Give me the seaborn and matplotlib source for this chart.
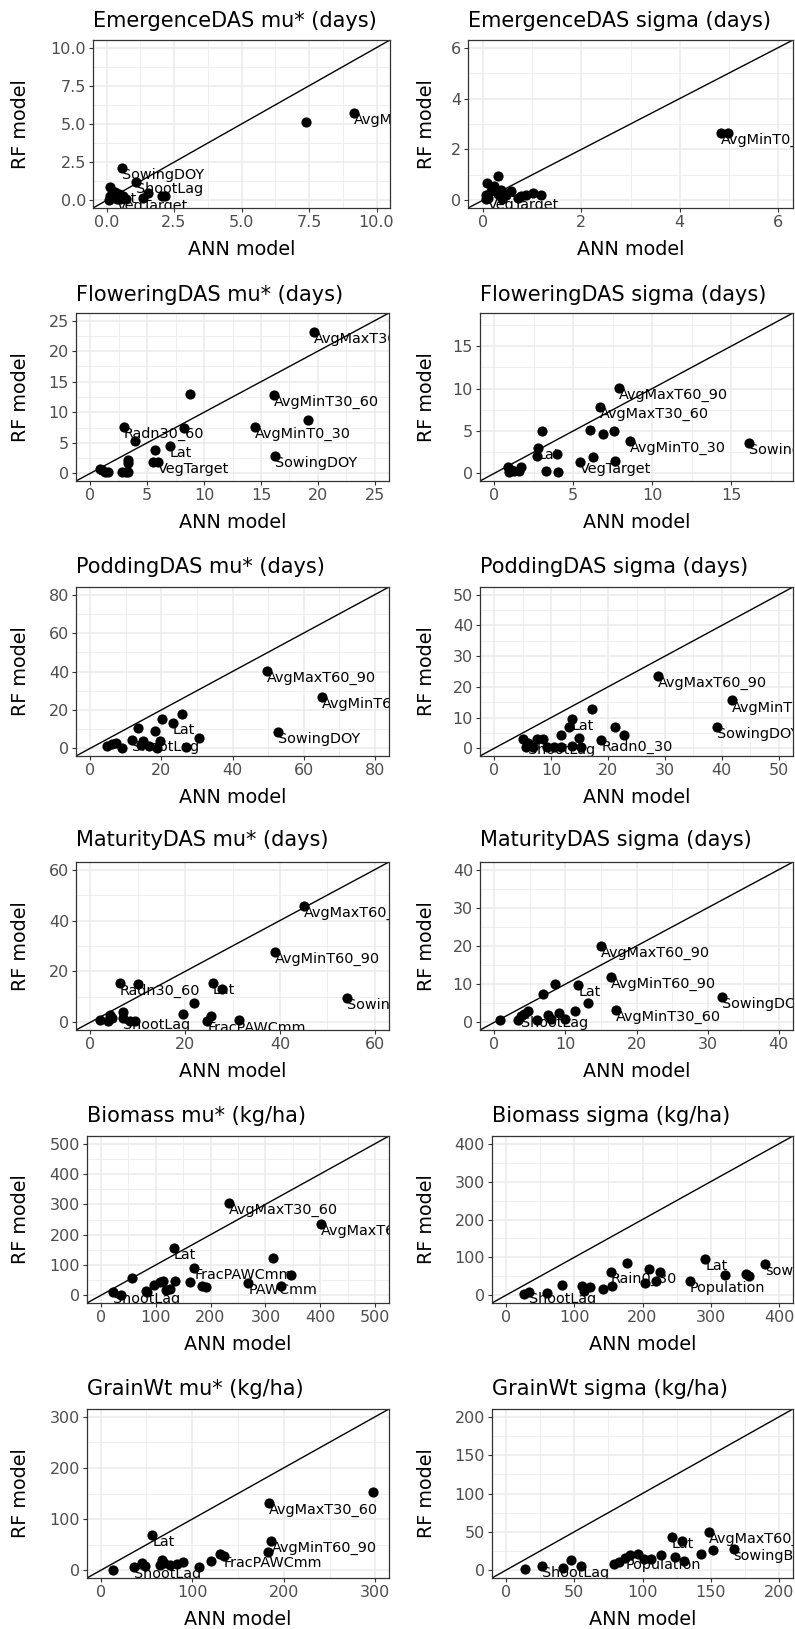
import matplotlib
matplotlib.use("Agg")
import matplotlib.pyplot as plt
import pandas as pd
import seaborn as sns
from matplotlib.ticker import MultipleLocator, FormatStrFormatter

sns.set_theme(style="white")
plt.rcParams["font.family"] = ["DejaVu Sans"]

# ---------------- data: ANN vs RF sensitivity indices ----------------
emerg_mu_ann = [9.16, 7.40, 0.58, 1.11, 0.31, 0.38, 0.12, 0.10, 0.50, 0.74, 0.12, 1.36, 1.55, 2.04, 2.17, 0.45, 0.62]
emerg_mu_rf = [5.70, 5.13, 2.10, 1.22, 0.57, 0.10, 0.87, 0.00, 0.07, 0.10, 0.28, 0.17, 0.46, 0.28, 0.28, 0.40, 0.30]
emerg_mu_lab = ["AvgMinT0_30", "", "SowingDOY", "ShootLag", "Lat", "VegTarget", "", "", "", "", "", "", "", "", "", "", ""]

emerg_sd_ann = [4.84, 4.99, 0.30, 0.09, 0.22, 0.17, 0.37, 0.57, 0.47, 0.07, 0.07, 0.11, 0.78, 0.88, 1.01, 1.18, 0.71, 0.30, 0.40]
emerg_sd_rf = [2.65, 2.65, 0.95, 0.69, 0.55, 0.37, 0.40, 0.37, 0.23, 0.23, 0.04, 0.10, 0.17, 0.23, 0.27, 0.20, 0.10, 0.25, 0.05]
emerg_sd_lab = ["AvgMinT0_30", "", "", "", "Lat", "", "", "", "", "", "", "VegTarget", "", "", "", "", "", "", ""]

flow_mu_ann = [19.65, 16.17, 19.13, 14.49, 16.26, 8.78, 8.20, 2.96, 3.91, 7.01, 5.65, 3.33, 3.33, 5.50, 5.94, 0.87, 1.00, 1.30, 1.60, 2.75, 3.33, 3.10]
flow_mu_rf = [23.10, 12.77, 8.80, 7.66, 2.88, 13.00, 7.50, 7.66, 5.27, 4.51, 3.80, 2.17, 1.63, 1.90, 1.90, 0.65, 0.55, 0.27, 0.16, 0.16, 0.16, 0.20]
flow_mu_lab = ["AvgMaxT30_60", "AvgMinT30_60", "", "AvgMinT0_30", "SowingDOY", "", "", "Radn30_60", "", "Lat", "", "", "", "", "VegTarget", "", "", "", "", "", "", ""]

flow_sd_ann = [7.91, 6.71, 3.04, 6.04, 6.86, 7.55, 8.60, 16.09, 2.77, 3.99, 2.69, 6.23, 5.41, 7.61, 3.25, 4.05, 0.84, 1.05, 1.68, 1.57, 1.26, 0.94]
flow_sd_rf = [10.01, 7.87, 4.99, 5.06, 4.67, 4.99, 3.78, 3.62, 2.95, 2.34, 2.03, 1.87, 1.36, 1.48, 0.27, 0.19, 0.78, 0.39, 0.78, 0.27, 0.27, 0.19]
flow_sd_lab = ["AvgMaxT60_90", "AvgMaxT30_60", "", "", "", "", "AvgMinT0_30", "SowingDOY", "Lat", "", "", "", "VegTarget", "", "", "", "", "", "", "", "", ""]

pod_mu_ann = [49.8, 65.2, 52.8, 20.2, 25.8, 23.3, 13.5, 18.3, 11.8, 14.9, 19.7, 30.6, 27.0, 4.8, 6.2, 7.2, 8.8, 14.2, 16.5, 18.8]
pod_mu_rf = [40.2, 26.7, 8.5, 15.1, 17.7, 13.3, 10.4, 9.0, 4.2, 3.8, 3.8, 5.2, 0.9, 1.2, 2.1, 2.6, 0.35, 1.7, 1.2, 0.35]
pod_mu_lab = ["AvgMaxT60_90", "AvgMinT60_90", "SowingDOY", "", "", "Lat", "", "", "ShootLag", "", "", "", "", "", "", "", "", "", "", ""]

pod_sd_ann = [28.7, 41.8, 39.2, 17.1, 13.6, 13.2, 21.3, 22.8, 11.8, 14.9, 18.8, 5.1, 7.5, 8.5, 6.0, 5.6, 6.9, 9.2, 10.5, 11.8, 13.7, 15.3]
pod_sd_rf = [23.5, 15.6, 7.0, 12.9, 9.7, 6.9, 6.9, 4.3, 4.3, 3.5, 2.6, 3.1, 2.9, 3.1, 1.6, 0.5, 0.5, 0.5, 0.5, 0.5, 0.8, 0.5]
pod_sd_lab = ["AvgMaxT60_90", "AvgMinT60_90", "SowingDOY", "", "Lat", "", "", "", "", "", "Radn0_30", "", "", "", "ShootLag", "", "", "", "", "", "", ""]

mat_mu_ann = [45.1, 38.9, 54.2, 6.3, 10.1, 25.9, 27.8, 21.8, 19.6, 25.4, 24.7, 31.3, 7.0, 7.0, 2.1, 3.7, 4.2, 4.5, 8.3, 9.4]
mat_mu_rf = [45.7, 27.6, 9.5, 15.3, 14.9, 15.3, 13.3, 7.5, 3.2, 2.6, 0.65, 0.9, 3.9, 1.9, 1.0, 0.4, 3.0, 1.6, 0.4, 0.4]
mat_mu_lab = ["AvgMaxT60_90", "AvgMinT60_90", "SowingDOY", "Radn30_60", "", "Lat", "", "", "", "", "FracPAWCmm", "", "", "ShootLag", "", "", "", "", "", ""]

mat_sd_ann = [15.0, 16.4, 32.0, 17.1, 8.5, 11.8, 6.8, 13.2, 11.3, 9.1, 7.6, 8.0, 9.9, 6.0, 4.7, 4.2, 3.7, 3.3, 0.8]
mat_sd_rf = [19.9, 11.9, 6.7, 3.2, 10.1, 9.9, 7.3, 5.0, 2.9, 2.4, 2.0, 0.9, 1.0, 0.7, 3.0, 2.2, 1.7, 0.7, 0.7]
mat_sd_lab = ["AvgMaxT60_90", "AvgMinT60_90", "SowingDOY", "AvgMinT30_60", "", "Lat", "", "", "", "", "", "", "", "", "", "", "ShootLag", "", ""]

bio_mu_ann = [233.7, 401.6, 314.0, 132.9, 170.3, 346.0, 268.7, 327.9, 57.4, 97.8, 108.7, 113.5, 135.9, 163.0, 184.0, 191.0, 119.0, 125.6, 82.7, 84.5, 22.3, 37.4]
bio_mu_rf = [303.0, 234.8, 124.5, 154.8, 88.7, 68.2, 41.1, 32.5, 56.3, 35.7, 43.3, 46.5, 46.5, 43.3, 30.3, 27.0, 16.2, 21.6, 14.0, 10.8, 10.8, 2.2]
bio_mu_lab = ["AvgMaxT30_60", "AvgMaxT60_90", "", "Lat", "FracPAWCmm", "", "PAWCmm", "", "", "", "", "", "", "", "", "", "", "", "", "", "ShootLag", ""]

bio_sd_ann = [292.0, 379.0, 320.2, 351.6, 355.0, 269.4, 177.5, 153.3, 210.0, 225.0, 203.0, 220.0, 155.7, 142.7, 122.9, 112.2, 114.6, 81.7, 60.0, 33.4, 26.6]
bio_sd_rf = [95.2, 84.0, 54.5, 56.3, 50.2, 37.2, 86.6, 62.3, 69.3, 62.3, 32.9, 37.2, 26.0, 15.6, 21.6, 24.2, 11.3, 27.7, 6.9, 8.7, 2.6]
bio_sd_lab = ["Lat", "sowingB", "", "", "", "Population", "", "Rain0_30", "", "", "", "", "", "", "", "", "", "", "", "ShootLag", ""]

grain_mu_ann = [297.8, 184.0, 186.6, 183.0, 56.2, 130.4, 134.8, 120.3, 106.9, 89.9, 83.3, 76.1, 67.0, 68.8, 65.2, 45.3, 48.9, 36.2, 13.4]
grain_mu_rf = [152.0, 131.8, 57.4, 35.9, 68.5, 31.3, 28.0, 17.6, 6.5, 16.3, 13.0, 11.1, 19.6, 15.0, 9.8, 15.0, 8.5, 6.5, 1.3]
grain_mu_lab = ["", "AvgMaxT30_60", "AvgMinT60_90", "", "Lat", "", "FracPAWCmm", "", "", "", "", "", "", "", "", "", "", "ShootLag", ""]

grain_sd_ann = [148.5, 121.4, 129.1, 151.6, 166.6, 142.7, 123.8, 130.6, 113.4, 106.2, 100.8, 96.5, 90.7, 87.5, 82.7, 79.1, 48.1, 54.9, 41.6, 26.4, 14.3]
grain_sd_rf = [50.0, 43.5, 38.3, 27.0, 27.4, 21.7, 17.4, 12.2, 20.4, 14.3, 15.2, 20.9, 19.6, 16.1, 10.9, 8.7, 13.0, 5.2, 3.5, 5.7, 2.2]
grain_sd_lab = ["AvgMaxT60_90", "Lat", "", "", "sowingB", "", "", "", "", "", "", "", "", "Population", "", "", "", "", "", "ShootLag", ""]

panel_titles = [
    "EmergenceDAS mu* (days)", "EmergenceDAS sigma (days)",
    "FloweringDAS mu* (days)", "FloweringDAS sigma (days)",
    "PoddingDAS mu* (days)", "PoddingDAS sigma (days)",
    "MaturityDAS mu* (days)", "MaturityDAS sigma (days)",
    "Biomass mu* (kg/ha)", "Biomass sigma (kg/ha)",
    "GrainWt mu* (kg/ha)", "GrainWt sigma (kg/ha)",
]
axis_max = [10, 6, 25, 18, 80, 50, 60, 40, 500, 400, 300, 200]
tick_step = [2.5, 2, 5, 5, 20, 10, 20, 10, 100, 100, 100, 50]

panel_data = [
    (emerg_mu_ann, emerg_mu_rf, emerg_mu_lab), (emerg_sd_ann, emerg_sd_rf, emerg_sd_lab),
    (flow_mu_ann, flow_mu_rf, flow_mu_lab), (flow_sd_ann, flow_sd_rf, flow_sd_lab),
    (pod_mu_ann, pod_mu_rf, pod_mu_lab), (pod_sd_ann, pod_sd_rf, pod_sd_lab),
    (mat_mu_ann, mat_mu_rf, mat_mu_lab), (mat_sd_ann, mat_sd_rf, mat_sd_lab),
    (bio_mu_ann, bio_mu_rf, bio_mu_lab), (bio_sd_ann, bio_sd_rf, bio_sd_lab),
    (grain_mu_ann, grain_mu_rf, grain_mu_lab), (grain_sd_ann, grain_sd_rf, grain_sd_lab),
]

# ---------------- layout (pixels) ----------------
W, H = 795, 1629
panel_box = [  # left, top, right, bottom
    (93, 40, 390, 208), (468, 40, 793, 208),
    (76, 313, 389, 481), (480, 313, 793, 481),
    (76, 587, 389, 756), (480, 587, 793, 756),
    (76, 862, 389, 1030), (480, 862, 793, 1030),
    (87, 1136, 389, 1303), (492, 1136, 793, 1303),
    (87, 1409, 389, 1578), (492, 1409, 793, 1578),
]
title_base = [27, 27, 301, 301, 573, 573, 846, 846, 1122, 1122, 1395, 1395]
ylab_x = [21, 426]

GRID = "#EBEBEB"
DARK = "#333333"

fig = plt.figure(figsize=(W / 100, H / 100), dpi=100)


def fx(px):
    return px / W


def fy(py):
    return 1 - py / H


for i, (ann, rf, lab) in enumerate(panel_data):
    l, t, r, b = panel_box[i]
    ax = fig.add_axes([fx(l), fy(b), (r - l) / W, (b - t) / H])
    df = pd.DataFrame({"ANN": ann, "RF": rf, "label": lab})
    m = axis_max[i]
    lo, hi = -0.05 * m, 1.05 * m

    ax.axline((0, 0), slope=1, color="black", lw=1.0, zorder=2)
    for _, row in df[df["label"] != ""].iterrows():
        ax.text(row["ANN"], row["RF"], row["label"], ha="left", va="top",
                fontsize=10.4, color="black", clip_on=True, zorder=3)
    sns.scatterplot(data=df, x="ANN", y="RF", ax=ax, color="black", s=54,
                    linewidth=0, zorder=4, legend=False)

    step = tick_step[i]
    for axis in (ax.xaxis, ax.yaxis):
        axis.set_major_locator(MultipleLocator(step))
        axis.set_minor_locator(MultipleLocator(step / 2))
        axis.set_major_formatter(FormatStrFormatter("%.1f" if i == 0 else "%g"))
    ax.set_xlim(lo, hi)
    ax.set_ylim(lo, hi)
    ax.grid(which="major", color=GRID, lw=1.1)
    ax.grid(which="minor", color=GRID, lw=0.55)
    ax.set_axisbelow(True)
    ax.tick_params(which="major", length=3, width=0.8, color=DARK, pad=2,
                   labelsize=11.5, labelcolor="#4D4D4D", left=True, bottom=True)
    ax.tick_params(which="minor", length=0)
    for sp in ax.spines.values():
        sp.set_color(DARK)
        sp.set_linewidth(0.9)
    ax.set_xlabel("")
    ax.set_ylabel("")

    # panel title (left-aligned with the panel) and axis titles
    fig.text(fx(l), fy(title_base[i]), panel_titles[i], ha="left", va="baseline",
             fontsize=15, color="black")
    fig.text(fx((l + r) / 2), fy(b + 47), "ANN model", ha="center", va="baseline",
             fontsize=13.8, color="black")
    fig.text(fx(ylab_x[i % 2]), fy((t + b) / 2), "RF model", ha="center", va="center",
             rotation=90, fontsize=13.8, color="black")

fig.savefig("out.png", dpi=100, facecolor="white")
